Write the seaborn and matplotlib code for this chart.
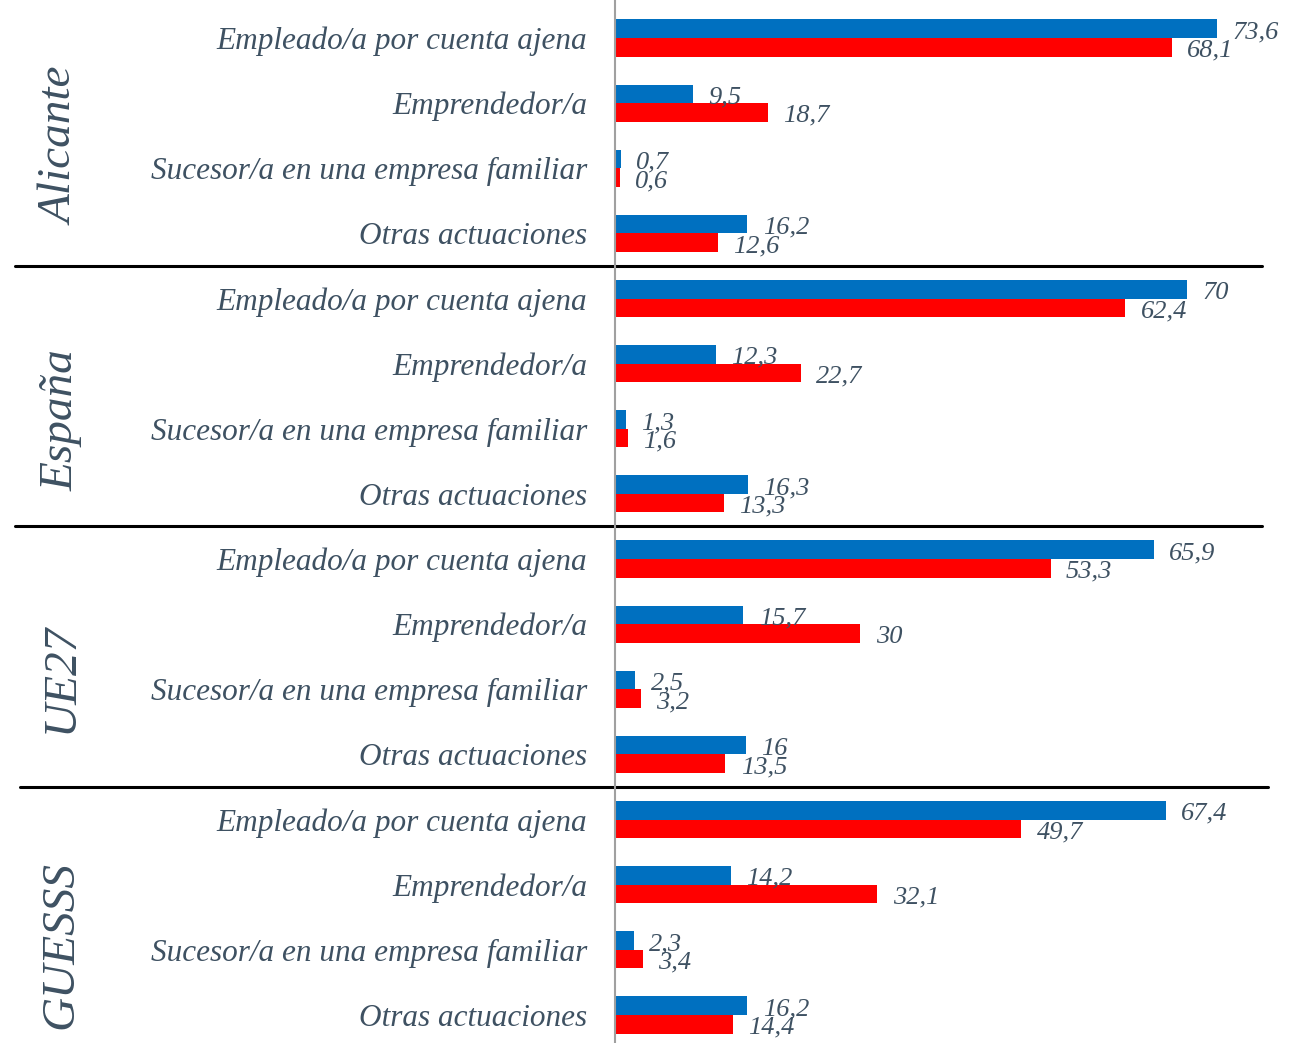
import matplotlib
matplotlib.use('Agg')
import matplotlib.pyplot as plt
import matplotlib.transforms as mtransforms
import seaborn as sns
import pandas as pd

# Data
groups = ['Alicante', 'España', 'UE27', 'GUESSS']
categories = ['Empleado/a por cuenta ajena', 'Emprendedor/a',
              'Sucesor/a en una empresa familiar', 'Otras actuaciones']
series_names = ['Serie 1', 'Serie 2']
blue_values = [73.6, 9.5, 0.7, 16.2,
               70, 12.3, 1.3, 16.3,
               65.9, 15.7, 2.5, 16,
               67.4, 14.2, 2.3, 16.2]
red_values = [68.1, 18.7, 0.6, 12.6,
              62.4, 22.7, 1.6, 13.3,
              53.3, 30, 3.2, 13.5,
              49.7, 32.1, 3.4, 14.4]

TEXT = '#3E5162'
BLUE = '#0070C0'
RED = '#FF0000'

sns.set_style('white')
plt.rcParams['font.family'] = ['Liberation Serif', 'DejaVu Serif']

rows = [f'{g}|{c}' for g in groups for c in categories]
df = pd.DataFrame({
    'row': rows * 2,
    'value': blue_values + red_values,
    'serie': [series_names[0]] * len(rows) + [series_names[1]] * len(rows),
})

fig = plt.figure(figsize=(13.01, 10.43), dpi=100)
ax = fig.add_axes([615 / 1301, 0, (1301 - 615) / 1301, 1])

sns.barplot(data=df, y='row', x='value', hue='serie', order=rows,
            hue_order=series_names, palette=[BLUE, RED], orient='h',
            width=0.57, saturation=1, linewidth=0, legend=False, ax=ax)

for cont in ax.containers:
    labels = [f'{v:g}'.replace('.', ',') for v in cont.datavalues]
    anns = ax.bar_label(cont, labels=labels, padding=11, fontsize=19,
                        style='italic', color=TEXT)
    for a in anns:
        a.xyann = (11, -2.5)

ax.set_xlim(0, 83.9)
ax.set_ylim(len(rows) - 1 + 0.43, -0.583)
ax.set_xlabel('')
ax.set_ylabel('')
ax.set_xticks([])
ax.set_yticks(range(len(rows)))
ax.set_yticklabels(categories * len(groups), fontsize=22.5, style='italic', color=TEXT)
ax.tick_params(axis='y', length=0, pad=20)

for side in ['top', 'right', 'bottom']:
    ax.spines[side].set_visible(False)
ax.spines['left'].set_color('#A0A0A0')
ax.spines['left'].set_linewidth(1.5)

# separators between groups
trans = mtransforms.blended_transform_factory(fig.transFigure, ax.transData)
sep_x = [(15, 1262), (15, 1262), (20, 1268)]
for i, (x0, x1) in enumerate(sep_x):
    y = (i + 1) * len(categories) - 0.5
    ax.plot([x0 / 1301, x1 / 1301], [y, y], color='black', lw=2.2,
            transform=trans, clip_on=False)

# group names, rotated
group_shift = [0.17, 0.37, 0.33, 0.42]
for i, g in enumerate(groups):
    yc = i * len(categories) + 1.5 + group_shift[i]
    ax.text(61 / 1301, yc, g, rotation=90, ha='center', va='center',
            fontsize=34, style='italic', color=TEXT, transform=trans)

fig.savefig('out.png', dpi=100)
